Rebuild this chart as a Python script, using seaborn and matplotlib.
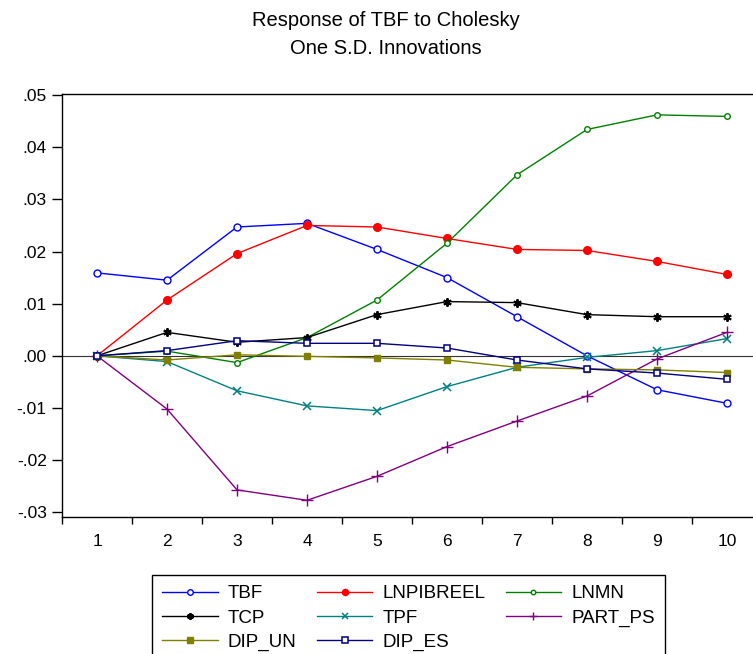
import matplotlib
matplotlib.use("Agg")
import matplotlib.pyplot as plt
import seaborn as sns
import pandas as pd
import numpy as np
from matplotlib.ticker import FixedLocator, FuncFormatter

# ---- data ----
periods = [1, 2, 3, 4, 5, 6, 7, 8, 9, 10]
tbf       = [0.0159, 0.0145, 0.0247, 0.0254, 0.0204, 0.0150, 0.0075, 0.0000, -0.0065, -0.0091]
lnpibreel = [0.0000, 0.0107, 0.0196, 0.0250, 0.0247, 0.0225, 0.0204, 0.0202, 0.0181, 0.0156]
lnmn      = [0.0000, 0.0009, -0.0013, 0.0035, 0.0107, 0.0216, 0.0347, 0.0434, 0.0462, 0.0459]
tcp       = [0.0000, 0.0045, 0.0026, 0.0035, 0.0079, 0.0104, 0.0102, 0.0079, 0.0075, 0.0075]
tpf       = [0.0000, -0.0011, -0.0067, -0.0096, -0.0105, -0.0059, -0.0022, -0.0003, 0.0010, 0.0033]
part_ps   = [0.0000, -0.0102, -0.0257, -0.0277, -0.0231, -0.0174, -0.0125, -0.0077, -0.0006, 0.0045]
dip_un    = [0.0000, -0.0008, 0.0002, -0.0001, -0.0004, -0.0008, -0.0022, -0.0025, -0.0027, -0.0032]
dip_es    = [0.0000, 0.0010, 0.0029, 0.0024, 0.0024, 0.0015, -0.0008, -0.0025, -0.0033, -0.0045]

series_names = ["TBF", "LNPIBREEL", "LNMN", "TCP", "TPF", "PART_PS", "DIP_UN", "DIP_ES"]
series_values = [tbf, lnpibreel, lnmn, tcp, tpf, part_ps, dip_un, dip_es]
title_lines = ["Response of TBF to Cholesky", "One S.D. Innovations"]
y_ticks = [-0.03, -0.02, -0.01, 0.00, 0.01, 0.02, 0.03, 0.04, 0.05]

# ---- styles ----
styles = {
    "TBF":       dict(color="#0000ff", marker="o", mfc="white", ms=5.0, mew=1.0),
    "LNPIBREEL": dict(color="#ff0000", marker="o", mfc="#ff0000", ms=5.5, mew=1.0),
    "LNMN":      dict(color="#008000", marker="o", mfc="white", ms=4.0, mew=1.0),
    "TCP":       dict(color="#000000", marker=(6, 2, 0), mfc="#000000", ms=6.0, mew=1.4),
    "TPF":       dict(color="#008080", marker="x", mfc="#008080", ms=5.5, mew=1.1),
    "PART_PS":   dict(color="#800080", marker="+", mfc="#800080", ms=8.0, mew=1.0),
    "DIP_UN":    dict(color="#808000", marker="s", mfc="#808000", ms=5.0, mew=1.0),
    "DIP_ES":    dict(color="#000080", marker="s", mfc="white", ms=5.0, mew=1.1),
}

plt.rcParams["font.family"] = ["Liberation Sans", "DejaVu Sans"]

W, H = 753, 654
fig = plt.figure(figsize=(W / 100, H / 100), dpi=100)
ax_left, ax_right, ax_top, ax_bot = 62, 762, 94, 517
ax = fig.add_axes([ax_left / W, 1 - ax_bot / H, (ax_right - ax_left) / W, (ax_bot - ax_top) / H])

ax.axhline(0, color="#333333", lw=0.8, zorder=1)

for name, vals in zip(series_names, series_values):
    st = styles[name]
    df = pd.DataFrame({"period": periods, "value": vals})
    sns.lineplot(data=df, x="period", y="value", ax=ax, color=st["color"],
                 marker=st["marker"], markerfacecolor=st["mfc"], markeredgecolor=st["color"],
                 markersize=st["ms"], markeredgewidth=st["mew"], linewidth=1.0,
                 label=name, legend=False, zorder=3)

ax.set_xlim(0.5, 10.5)
ax.set_ylim(-0.0309, 0.0502)
ax.set_xlabel("")
ax.set_ylabel("")

# x: tick marks between periods, labels at periods
ax.xaxis.set_major_locator(FixedLocator([p - 0.5 for p in periods] + [periods[-1] + 0.5]))
ax.xaxis.set_major_formatter(FuncFormatter(lambda v, p: ""))
ax.xaxis.set_minor_locator(FixedLocator(periods))
ax.xaxis.set_minor_formatter(FuncFormatter(lambda v, p: f"{int(round(v))}"))
ax.tick_params(axis="x", which="major", direction="out", length=5, width=1, color="black")
ax.tick_params(axis="x", which="minor", length=0, labelsize=12.5, pad=12)

def yfmt(v, p):
    s = f"{v:.2f}"
    s = s.replace("0.", ".")
    if s == "-.00":
        s = ".00"
    return s

ax.yaxis.set_major_locator(FixedLocator(y_ticks))
ax.yaxis.set_major_formatter(FuncFormatter(yfmt))
ax.tick_params(axis="y", direction="out", length=7, width=1, color="black", labelsize=12.5, pad=4)

for s in ["left", "top", "bottom", "right"]:
    ax.spines[s].set_color("black")
    ax.spines[s].set_linewidth(1.0)

fig.text(386 / W, 1 - 21 / H, title_lines[0], ha="center", va="center", fontsize=14.5)
fig.text(386 / W, 1 - 49 / H, title_lines[1], ha="center", va="center", fontsize=14.5)

# legend laid out row by row like the reference (matplotlib fills by column)
handles, labels = ax.get_legend_handles_labels()
hmap = dict(zip(labels, handles))
order = ["TBF", "TCP", "DIP_UN", "LNPIBREEL", "TPF", "DIP_ES", "LNMN", "PART_PS"]
leg = fig.legend([hmap[k] for k in order], order, ncol=3, loc="upper left",
                 bbox_to_anchor=(152 / W, 1 - 575 / H), bbox_transform=fig.transFigure,
                 frameon=True, fancybox=False, shadow=False, framealpha=1,
                 edgecolor="black", fontsize=13.5, handlelength=2.95, handletextpad=0.53,
                 columnspacing=1.1, labelspacing=0.38, borderpad=0.55, borderaxespad=0,
                 markerscale=0.8)
leg.get_frame().set_linewidth(1.0)

fig.savefig("out.png", dpi=100)
